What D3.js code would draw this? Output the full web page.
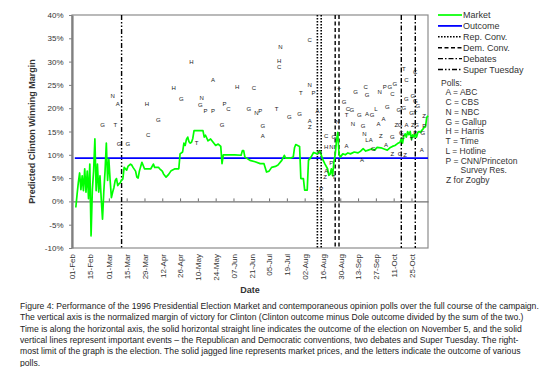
<!DOCTYPE html>
<html>
<head>
<meta charset="utf-8">
<script src="https://cdn.jsdelivr.net/npm/d3@7"></script>
<style>
  body { margin: 0; background: #fff; }
  text { font-family: Arial, "Liberation Sans", sans-serif; }
</style>
</head>
<body>
<div id="chart"></div>
<script>
var year = 1996;

// axis ticks
var xTickDates = ["02-01","02-15","03-01","03-15","03-29","04-12","04-26","05-10","05-24","06-07",
                  "06-21","07-05","07-19","08-02","08-16","08-30","09-13","09-27","10-11","10-25"];
var yTicks = [-10, -5, 0, 5, 10, 15, 20, 25, 30, 35, 40];

// market price series (predicted margin, %)
var marketDates = [
  "02-04","02-05","02-06","02-07","02-08","02-09","02-10","02-11","02-12","02-13",
  "02-14","02-15","02-16","02-17","02-18","02-19","02-20","02-21","02-22","02-23",
  "02-24","02-25","02-26","02-27","02-28","02-29","03-01","03-02","03-03","03-04",
  "03-05","03-06","03-07","03-08","03-09","03-10","03-11","03-12","03-13","03-15",
  "03-16","03-18","03-19","03-20","03-22","03-23","03-24","03-25","03-27","03-29",
  "04-01","04-03","04-05","04-06","04-09","04-10","04-12","04-13","04-15","04-17",
  "04-19","04-22","04-25","04-26","04-28","04-29","04-30","05-01","05-02","05-03",
  "05-04","05-05","05-06","05-07","05-14","05-15","05-16","05-18","05-20","05-22",
  "05-24","05-26","05-28","05-29","05-30","06-08","06-13","06-14","06-15","06-16",
  "06-20","06-24","06-28","07-01","07-03","07-05","07-07","07-10","07-12","07-15",
  "07-17","07-18","07-22","07-24","07-25","07-26","07-29","07-30","08-01","08-02",
  "08-04","08-05","08-07","08-09","08-12","08-14","08-16","08-18","08-20","08-21",
  "08-22","08-23","08-24","08-25","08-26","08-27","08-28","08-29","08-30","09-01",
  "09-03","09-05","09-07","09-10","09-13","09-15","09-17","09-19","09-21","09-24",
  "09-26","09-28","10-01","10-04","10-06","10-08","10-10","10-12","10-14","10-16",
  "10-17","10-18","10-19","10-20","10-21","10-22","10-23","10-24","10-25","10-26",
  "10-27","10-28","10-29","10-30","10-31","11-01","11-02","11-03","11-04","11-05",
  "11-06","11-07"];
var marketValues = [
  -1.3, 1.5, 4.1, 6.1, 2.5, 5.5, 2.3, 7.0, 2.0, 6.5,
  0.6, 8.0, -7.4, 2.5, 6.5, 13.4, 2.3, 8.0, 2.0, 5.5,
  0.5, -3.8, 2.0, 6.5, 12.5, 4.5, 9.0, 4.5, 0.8, 2.0,
  3.0, 4.5, 4.9, 3.4, 3.8, 4.0, 4.6, 4.8, 7.3, 6.7,
  7.5, 8.0, 7.8, 7.3, 6.5, 5.2, 5.0, 6.5, 8.4, 7.0,
  7.0, 7.0, 8.0, 7.3, 7.3, 7.0, 6.5, 5.9, 5.2, 5.8,
  6.6, 7.0, 7.0, 10.2, 10.6, 12.5, 12.0, 13.3, 13.8, 12.8,
  12.5, 12.7, 13.5, 15.2, 15.2, 13.8, 14.2, 13.0, 13.4, 12.7,
  12.0, 12.3, 11.8, 8.1, 10.0, 10.0, 9.9, 10.9, 10.9, 9.5,
  8.8, 8.5, 8.1, 8.1, 6.3, 6.5, 7.3, 7.5, 7.8, 8.8,
  9.9, 9.3, 9.3, 9.5, 11.5, 12.2, 11.8, 4.9, 4.9, 2.4,
  2.4, 8.8, 9.5, 10.5, 10.2, 10.9, 9.1, 8.0, 7.0, 5.6,
  5.8, 7.0, 5.5, 8.5, 10.0, 13.0, 14.8, 10.2, 9.5, 10.2,
  10.0, 10.4, 10.2, 10.6, 10.4, 10.8, 11.3, 10.8, 11.0, 11.3,
  11.0, 11.6, 11.5, 11.2, 11.0, 11.5, 11.8, 12.0, 12.4, 12.7,
  13.5, 12.5, 14.0, 14.5, 13.8, 15.0, 14.3, 15.0, 13.3, 14.3,
  13.8, 14.5, 13.8, 14.8, 15.0, 14.8, 15.2, 15.5, 15.9, 16.0,
  18.0, 18.4];

// election outcome (%)
var outcomeValue = 9.3;

// event dates
var repConvDates = ["08-12", "08-15"];
var demConvDates = ["08-26", "08-29"];
var debateDates = ["10-17", "10-28"];
var superTuesdayDates = ["03-11"];

// opinion polls
var pollDates = [
  "02-25","03-06","03-04","03-08","03-09","03-16","03-31","04-01","04-09","04-21",
  "04-27","05-05","05-09","05-12","05-13","05-16","05-22","05-22","05-29","05-31",
  "06-03","06-10","06-19","06-23","06-25","06-28","06-30","06-30","07-11","07-13",
  "07-13","07-14","07-21","07-29","07-30","08-06","08-06","08-09","08-12","08-06",
  "08-06","08-19","08-19","08-23","08-25","08-14","08-19","08-18","08-25","08-23",
  "08-15","08-29","09-02","09-05","09-08","09-04","09-09","09-11","09-14","09-19",
  "09-20","09-20","09-24","09-27","09-30","10-04","10-08","10-12","10-10","09-17",
  "09-29","09-18","09-20","09-23","09-25","09-04","09-16","10-01","10-10","10-05",
  "10-10","10-16","10-20","11-02","10-17","10-18","10-25","10-28","11-03","11-04",
  "10-13","10-16","10-21","10-26","10-29","10-19","10-21","10-28","10-19","10-21",
  "10-26","10-28","10-30","10-15","10-06","11-04","10-28","10-25","08-28","10-03"];
var pollValues = [
  16.5, 16.4, 22.6, 20.9, 12.4, 12.4, 20.9, 14.2, 17.5, 24.3,
  21.9, 30.0, 12.5, 20.8, 22.3, 19.5, 19.5, 26.0, 16.5, 20.9,
  19.9, 24.6, 19.9, 24.3, 19.0, 19.5, 16.1, 14.1, 19.9, 30.1,
  28.8, 33.2, 18.2, 18.7, 23.2, 34.7, 24.9, 23.3, 19.5, 17.2,
  15.9, 14.0, 11.6, 11.7, 13.8, 10.6, 6.6, 5.2, 5.2, 8.2,
  2.7, 24.0, 21.3, 19.9, 19.7, 18.6, 16.6, 23.4, 18.6, 24.5,
  22.8, 18.8, 18.6, 19.9, 23.6, 24.6, 24.5, 25.2, 23.1, 16.3,
  16.6, 14.5, 13.1, 13.1, 11.3, 12.0, 8.8, 14.0, 13.8, 12.2,
  10.2, 10.3, 9.9, 11.1, 14.8, 13.8, 13.4, 14.8, 14.8, 16.2,
  16.5, 16.5, 16.5, 16.5, 16.5, 28.4, 26.1, 27.7, 20.1, 22.0,
  22.7, 21.6, 20.4, 19.7, 20.2, 18.4, 18.9, 18.9, 17.0, 17.7];
var pollLetters = [
  "G","T","N","A","G","G","H","C","G","H",
  "G","H","T","G","N","P","P","A","G","P",
  "C","H","G","C","N","P","G","A","T","H",
  "C","N","G","G","T","C","N","P","A","A",
  "Z","C","H","N","G","G","A","Z","T","P",
  "P","T","G","C","G","T","N","G","G","C",
  "G","A","G","L","N","P","G","G","C","G",
  "A","N","L","A","G","A","A","Z","G","A",
  "Z","G","Z","A","G","Z","T","P","G","P",
  "Z","G","A","Z","G","T","C","C","G","G",
  "G","G","G","G","G","Z","T","G","N","A"];

// legend
var lineKeys = ["Market", "Outcome", "Rep. Conv.", "Dem. Conv.", "Debates", "Super Tuesday"];
var pollKeys = ["A = ABC", "C = CBS", "N = NBC", "G = Gallup", "H = Harris", "T = Time",
                "L = Hotline", "P = CNN/Princeton"];

var captionLines = [
  "Figure 4: Performance of the 1996 Presidential Election Market and contemporaneous opinion polls over the full course of the campaign.",
  "The vertical axis is the normalized margin of victory for Clinton (Clinton outcome minus Dole outcome divided by the sum of the two.)",
  "Time is along the horizontal axis, the solid horizontal straight line indicates the outcome of the election on November 5, and the solid",
  "vertical lines represent important events \u2013 the Republican and Democratic conventions, two debates and Super Tuesday.  The right-",
  "most limit of the graph is the election.  The solid jagged line represents market prices, and the letters indicate the outcome of various",
  "polls."
];

function init()
{
  var W = 550, H = 367;
  var plot = {left: 72, right: 428, top: 15, bottom: 248};
  var parse = d3.timeParse("%Y-%m-%d");
  var toDate = function(s) { return parse(year + "-" + s); };

  var styles = {
    "Market":        {color: "#00ff00", width: 1.7, dash: null},
    "Outcome":       {color: "#0000ff", width: 1.8, dash: null},
    "Rep. Conv.":    {color: "#000", width: 1.6, dash: "1.6,1.4"},
    "Dem. Conv.":    {color: "#000", width: 1.4, dash: "4,2.5"},
    "Debates":       {color: "#000", width: 1.4, dash: "5,2,1.5,2"},
    "Super Tuesday": {color: "#000", width: 1.4, dash: "5,2,1.5,2,1.5,2"}
  };

  var svg = d3.select("#chart")
    .append("svg")
    .attr("width", W)
    .attr("height", H);

  var x = d3.scaleTime()
    .domain([toDate("02-01"), toDate("11-07")])
    .range([plot.left, plot.right]);

  var y = d3.scaleLinear()
    .domain([-10, 40])
    .range([plot.bottom, plot.top]);

  // plot frame
  svg.append("rect")
    .attr("x", plot.left)
    .attr("y", plot.top)
    .attr("width", plot.right - plot.left)
    .attr("height", plot.bottom - plot.top)
    .style("fill", "none")
    .style("stroke", "#8c8c8c")
    .style("stroke-width", 1.2);

  // zero line with date ticks
  var zeroAxis = svg.append("g")
    .attr("transform", "translate(0," + y(0) + ")")
    .call(d3.axisBottom(x)
      .tickValues(xTickDates.map(toDate))
      .tickSizeInner(-3)
      .tickSizeOuter(0)
      .tickFormat(""));
  zeroAxis.select(".domain").style("stroke", "#707070").style("stroke-width", 1.2);
  zeroAxis.selectAll("line").style("stroke", "#707070");

  // date labels below the plot
  var dateAxis = svg.append("g")
    .attr("transform", "translate(0," + plot.bottom + ")")
    .call(d3.axisBottom(x)
      .tickValues(xTickDates.map(toDate))
      .tickSize(0)
      .tickFormat(d3.timeFormat("%d-%b")));
  dateAxis.select(".domain").remove();
  dateAxis.selectAll("text")
    .attr("transform", "rotate(-90)")
    .attr("x", -6)
    .attr("y", 0)
    .attr("dy", "0.35em")
    .attr("fill", "#333")
    .style("text-anchor", "end")
    .style("font-size", "8px");

  // event lines
  var events = [
    ["Rep. Conv.", repConvDates],
    ["Dem. Conv.", demConvDates],
    ["Debates", debateDates],
    ["Super Tuesday", superTuesdayDates]
  ];
  events.forEach(function(ev) {
    var st = styles[ev[0]];
    svg.selectAll(null)
      .data(ev[1])
      .enter()
      .append("line")
        .attr("x1", function(d) { return x(toDate(d)); })
        .attr("x2", function(d) { return x(toDate(d)); })
        .attr("y1", plot.top)
        .attr("y2", plot.bottom)
        .style("stroke", st.color)
        .style("stroke-width", st.width)
        .style("stroke-dasharray", st.dash);
  });

  // outcome line
  svg.append("line")
    .attr("x1", x(toDate(marketDates[0])) - 1)
    .attr("x2", plot.right)
    .attr("y1", y(outcomeValue))
    .attr("y2", y(outcomeValue))
    .style("stroke", styles["Outcome"].color)
    .style("stroke-width", styles["Outcome"].width);

  // market line
  var market = marketDates.map(function(d, i) {
    return {date: toDate(d), value: marketValues[i]};
  });
  var line = d3.line()
    .x(function(d) { return x(d.date); })
    .y(function(d) { return y(d.value); });
  svg.append("path")
    .datum(market)
    .attr("d", line)
    .style("fill", "none")
    .style("stroke", styles["Market"].color)
    .style("stroke-width", styles["Market"].width)
    .style("stroke-linejoin", "round");

  // polls
  var polls = pollDates.map(function(d, i) {
    return {date: toDate(d), value: pollValues[i], letter: pollLetters[i]};
  });
  svg.selectAll(".poll")
    .data(polls)
    .enter()
    .append("text")
      .attr("class", "poll")
      .attr("x", function(d) { return x(d.date); })
      .attr("y", function(d) { return y(d.value); })
      .attr("dy", "0.35em")
      .style("text-anchor", "middle")
      .style("font-size", "6px")
      .style("fill", "#222")
      .text(function(d) { return d.letter; });

  // y axis
  var yAxis = svg.append("g")
    .attr("transform", "translate(" + plot.left + ",0)")
    .call(d3.axisLeft(y)
      .tickValues(yTicks)
      .tickSizeInner(3)
      .tickSizeOuter(0)
      .tickPadding(5.5)
      .tickFormat(function(d) { return d + "%"; }));
  yAxis.select(".domain").style("stroke", "#808080").style("stroke-width", 2.2);
  yAxis.selectAll("line").style("stroke", "#808080");
  yAxis.selectAll("text").attr("fill", "#333").style("font-size", "8px");

  // axis titles
  svg.append("text")
    .attr("transform", "translate(32," + ((plot.top + plot.bottom) / 2) + ") rotate(-90)")
    .attr("dy", "0.35em")
    .style("text-anchor", "middle")
    .style("font-size", "9px")
    .style("font-weight", "bold")
    .style("fill", "#333")
    .text("Predicted Clinton Winning Margin");

  svg.append("text")
    .attr("x", (plot.left + plot.right) / 2)
    .attr("y", 293)
    .style("text-anchor", "middle")
    .style("font-size", "9px")
    .style("font-weight", "bold")
    .style("fill", "#333")
    .text("Date");

  // legend
  var legend = svg.append("g").attr("class", "legend");
  lineKeys.forEach(function(k, i) {
    var ly = 15 + i * 10.9;
    var st = styles[k];
    legend.append("line")
      .attr("x1", 438).attr("x2", 462)
      .attr("y1", ly).attr("y2", ly)
      .style("stroke", st.color)
      .style("stroke-width", st.width)
      .style("stroke-dasharray", st.dash);
    legend.append("text")
      .attr("x", 463)
      .attr("y", ly)
      .attr("dy", "0.35em")
      .style("font-size", "9px")
      .style("fill", "#333")
      .text(k);
  });

  legend.append("text")
    .attr("x", 441)
    .attr("y", 83.5)
    .attr("dy", "0.35em")
    .style("font-size", "8.5px")
    .style("fill", "#333")
    .text("Polls:");

  legend.selectAll(".key")
    .data(pollKeys)
    .enter()
    .append("text")
      .attr("class", "key")
      .attr("x", 445.5)
      .attr("y", function(d, i) { return 92.5 + i * 9.75; })
      .attr("dy", "0.35em")
      .style("font-size", "8.5px")
      .style("fill", "#333")
      .text(function(d) { return d; });

  legend.append("text")
    .attr("x", 460.5)
    .attr("y", 170.2)
    .attr("dy", "0.35em")
    .style("font-size", "8.5px")
    .style("fill", "#333")
    .text("Survey Res.");

  legend.append("text")
    .attr("x", 446)
    .attr("y", 180.3)
    .attr("dy", "0.35em")
    .style("font-size", "8.5px")
    .style("fill", "#333")
    .text("Z for Zogby");

  // caption
  svg.selectAll(".caption")
    .data(captionLines)
    .enter()
    .append("text")
      .attr("class", "caption")
      .attr("x", 20)
      .attr("y", function(d, i) { return 309 + i * 11.3; })
      .style("font-size", "8.6px")
      .style("fill", "#222")
      .text(function(d) { return d; });
}

window.onload = init();
</script>
</body>
</html>
